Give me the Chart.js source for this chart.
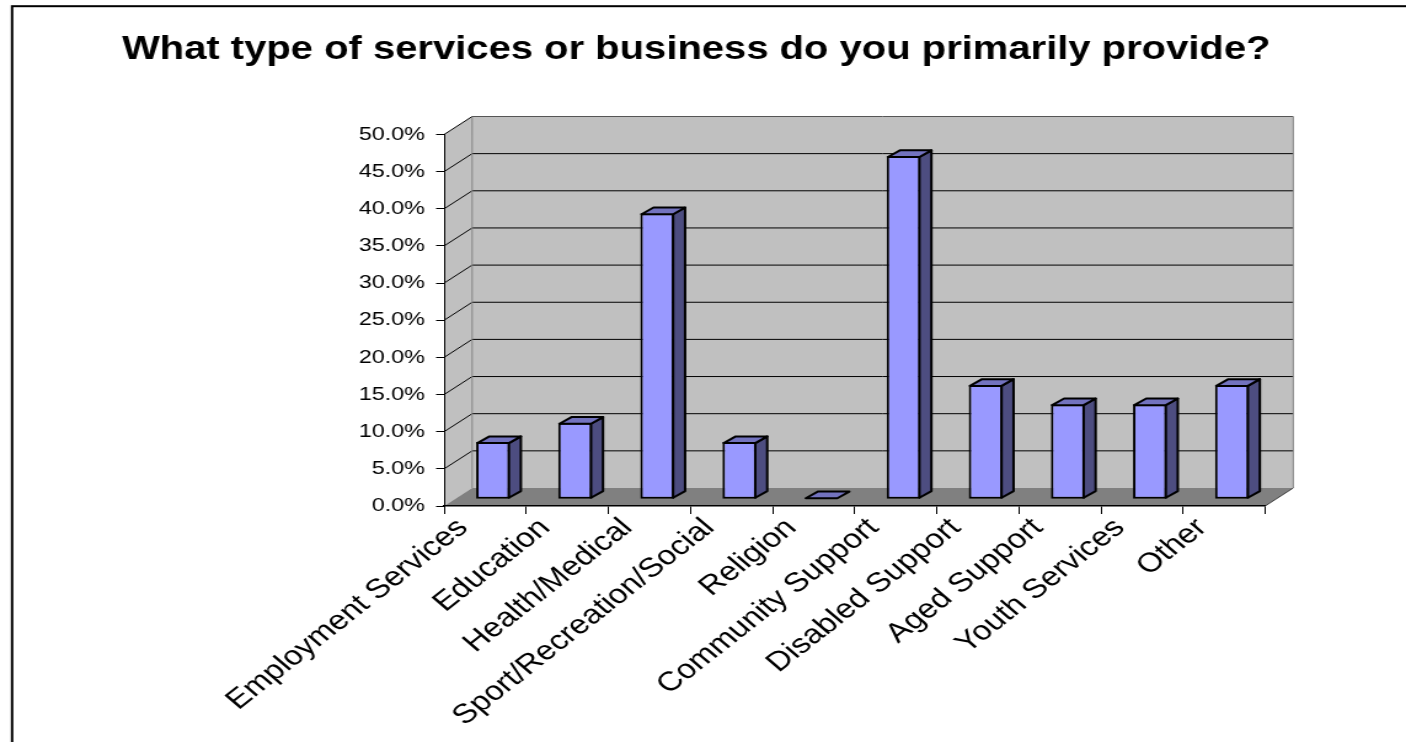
<!DOCTYPE html>
<html>
<head>
<meta charset="utf-8">
<script src="https://cdn.jsdelivr.net/npm/chart.js@4.4.1/dist/chart.umd.min.js"></script>
<style>
  html, body { margin: 0; padding: 0; background: #fff; overflow: hidden; }
  #wrap { width: 1143px; height: 742px; transform: scaleX(1.2301); transform-origin: 0 0; }
  canvas { display: block; }
</style>
</head>
<body>
<div id="wrap"><canvas id="chart" width="1143" height="742"></canvas></div>
<script>
const titleText = 'What type of services or business do you primarily provide?';
const categories = [
  'Employment Services', 'Education', 'Health/Medical', 'Sport/Recreation/Social',
  'Religion', 'Community Support', 'Disabled Support', 'Aged Support',
  'Youth Services', 'Other'
];
const shares = [7.7, 10.3, 38.5, 7.7, 0, 46.2, 15.4, 12.8, 12.8, 15.4];
const axisMax = 50;
const axisStep = 5;

// Oblique projection offsets for the 3-D look
const WALL_DX = 22.8, WALL_DY = -18;   // front plane -> back wall
const BAR_DX = 6.5, BAR_DY = -6.7;     // front plane -> bar front faces
const DEPTH_DX = 9.75, DEPTH_DY = -6.7; // bar depth (top / side faces)

const FRONT = '#9999ff', TOP = '#7373bf', SIDE = '#4d4d80';

function poly(ctx, pts) {
  ctx.beginPath();
  ctx.moveTo(pts[0][0], pts[0][1]);
  for (let i = 1; i < pts.length; i++) ctx.lineTo(pts[i][0], pts[i][1]);
  ctx.closePath();
}
function seg(ctx, x1, y1, x2, y2) {
  ctx.beginPath(); ctx.moveTo(x1, y1); ctx.lineTo(x2, y2); ctx.stroke();
}

// White page with the outer frame
const framePlugin = {
  id: 'frame',
  beforeDraw(chart) {
    const ctx = chart.ctx;
    ctx.save();
    ctx.fillStyle = '#fff';
    ctx.fillRect(0, 0, chart.width, chart.height);
    ctx.strokeStyle = '#000';
    ctx.lineWidth = 2;
    ctx.strokeRect(9.8, 6.2, chart.width + 60, chart.height + 60);
    ctx.restore();
  }
};

// Walls, floor and gridlines of the 3-D plot box
const wallsPlugin = {
  id: 'walls',
  beforeDraw(chart) {
    const { ctx, chartArea: a, scales: { y } } = chart;
    const y0 = y.getPixelForValue(0);
    const yT = y.getPixelForValue(axisMax);
    const bl = a.left + WALL_DX, br = a.right + WALL_DX;
    ctx.save();
    ctx.fillStyle = '#c0c0c0';
    poly(ctx, [[a.left, yT], [bl, yT + WALL_DY], [bl, y0 + WALL_DY], [a.left, y0]]);
    ctx.fill();
    ctx.fillRect(bl, yT + WALL_DY, br - bl, y0 - yT);
    ctx.fillStyle = '#808080';
    poly(ctx, [[a.left, y0], [a.right, y0], [br, y0 + WALL_DY], [bl, y0 + WALL_DY]]);
    ctx.fill();

    ctx.lineWidth = 1;
    y.ticks.forEach(t => {
      if (t.value === 0) return;
      const py = y.getPixelForValue(t.value);
      ctx.strokeStyle = t.value === axisMax ? '#555' : '#000';
      seg(ctx, bl, py + WALL_DY, br, py + WALL_DY);
      ctx.strokeStyle = '#000';
      seg(ctx, a.left, py, bl, py + WALL_DY);
    });
    ctx.strokeStyle = '#808080';
    seg(ctx, bl, yT + WALL_DY, bl, y0 + WALL_DY);
    seg(ctx, br, yT + WALL_DY, br, y0 + WALL_DY);
    ctx.strokeStyle = '#404040';
    seg(ctx, a.right, y0, br, y0 + WALL_DY);
    ctx.restore();
  }
};

// Bars sit a little behind the front plane and get top / side faces
const bars3dPlugin = {
  id: 'bars3d',
  beforeDatasetsDraw(chart) {
    chart.ctx.save();
    chart.ctx.translate(BAR_DX, BAR_DY);
  },
  afterDatasetsDraw(chart) {
    const ctx = chart.ctx;
    ctx.lineWidth = 2;
    ctx.lineJoin = 'round';
    ctx.strokeStyle = '#000';
    chart.getDatasetMeta(0).data.forEach(el => {
      const { x, y, base, width } = el.getProps(['x', 'y', 'base', 'width'], true);
      const l = x - width / 2 + 1, r = x + width / 2 - 1;
      const top = Math.min(y, base) + 1, bot = base - 1;
      if (bot - top > 0.5) {
        ctx.fillStyle = SIDE;
        poly(ctx, [[r, top], [r + DEPTH_DX, top + DEPTH_DY], [r + DEPTH_DX, bot + DEPTH_DY], [r, bot]]);
        ctx.fill(); ctx.stroke();
      }
      const ty = Math.min(top, bot);
      ctx.fillStyle = TOP;
      poly(ctx, [[l, ty], [l + DEPTH_DX, ty + DEPTH_DY], [r + DEPTH_DX, ty + DEPTH_DY], [r, ty]]);
      ctx.fill(); ctx.stroke();
    });
    ctx.restore();
  }
};

new Chart(document.getElementById('chart'), {
  type: 'bar',
  data: {
    labels: categories,
    datasets: [{
      data: shares,
      backgroundColor: FRONT,
      borderColor: '#000',
      borderWidth: 2,
      borderSkipped: false,
      barPercentage: 0.414,
      categoryPercentage: 1
    }]
  },
  plugins: [framePlugin, wallsPlugin, bars3dPlugin],
  options: {
    responsive: false,
    animation: false,
    events: [],
    layout: { padding: { left: 0, right: 11, top: 0, bottom: 0 } },
    plugins: {
      legend: { display: false },
      tooltip: { enabled: false },
      title: {
        display: true,
        text: titleText,
        color: '#000',
        font: { family: "'Liberation Sans', Arial, sans-serif", size: 32.5, weight: 'bold', lineHeight: 1.2 },
        padding: { top: 31, bottom: 64.5 }
      }
    },
    scales: {
      x: {
        grid: { display: true, drawOnChartArea: false, drawTicks: true, tickLength: 8, color: '#000', offset: true },
        border: { display: true, color: '#000', width: 1.5 },
        ticks: {
          autoSkip: false,
          minRotation: 44,
          maxRotation: 44,
          padding: -2,
          labelOffset: -18,
          color: '#000',
          font: { family: "'Liberation Sans', Arial, sans-serif", size: 27 }
        },
        afterFit(s) { s.height = 236; }
      },
      y: {
        min: 0,
        max: axisMax,
        grid: { display: true, drawOnChartArea: false, drawTicks: true, tickLength: 6.5, color: '#000' },
        border: { display: true, color: '#000', width: 1 },
        ticks: {
          stepSize: axisStep,
          padding: 9,
          color: '#000',
          font: { family: "'Liberation Sans', Arial, sans-serif", size: 19 },
          callback: v => v.toFixed(1) + '%'
        },
        afterFit(s) { s.width = 361; }
      },
      y2: {
        position: 'right',
        display: true,
        grid: { display: false },
        border: { display: false },
        ticks: { display: false },
        afterFit(s) { s.width = 103.5; }
      }
    }
  }
});
</script>
</body>
</html>
